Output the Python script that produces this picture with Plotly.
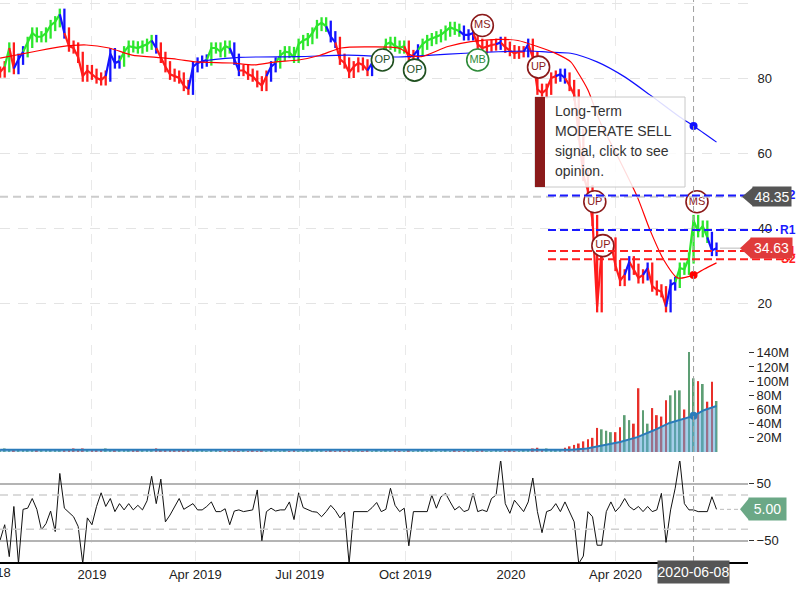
import pandas as pd
import plotly.graph_objects as go

# ---------------- data ----------------
START = "2018-10-13"          # first bar, one bar every 4 calendar days
close = [81.6, 83, 88, 82.5, 85, 87, 89.5, 92, 91, 91,
         92, 94, 95, 97, 92, 88.5, 88, 85.5, 80.5, 82,
         81, 80, 79.5, 80.5, 86.5, 84, 84.5, 87, 88.5, 88.3,
         88, 88.5, 89, 90, 88, 85.5, 83, 81, 80.5, 80,
         78, 77, 83, 84, 84.5, 84.8, 88, 88, 87, 88.5,
         88, 85, 82, 82, 81, 80.5, 79, 78, 80.5, 83,
         84, 86, 87, 86.8, 85.5, 89, 90, 90.5, 92, 94,
         94.7, 93.8, 91, 89.5, 85, 84, 81.5, 83, 84, 83.5,
         82, 84, 84.5, 86, 89, 89.5, 88.5, 88, 88.5, 85.5,
         86, 87.5, 89, 90, 90.5, 91, 91.5, 92.5, 93.5, 93,
         92.5, 91.5, 91.5, 92, 89, 88, 88.5, 88.8, 89, 89.5,
         88.2, 87.3, 86.6, 87, 87, 89, 85.5, 77, 76, 77,
         80, 80.5, 81, 80, 78, 75.5, 65, 54, 50, 42,
         19, 34, 35, 36, 30, 26, 27.5, 31, 29, 26.7,
         27.5, 29.3, 24.5, 23.5, 23, 19, 24.8, 25.5, 29.3, 29,
         32, 42, 39, 40.5, 37.5, 34, 34.63]

trend_runs = [("r", 2), ("g", 1), ("r", 1), ("b", 2), ("g", 8), ("b", 1), ("r", 9), ("b", 3),
              ("g", 7), ("b", 1), ("r", 7), ("b", 4), ("g", 5), ("b", 2), ("r", 6), ("b", 2),
              ("g", 11), ("b", 2), ("r", 7), ("b", 1), ("r", 1), ("g", 6), ("r", 2), ("b", 1),
              ("g", 9), ("b", 3), ("r", 5), ("b", 1), ("r", 5), ("b", 1), ("r", 6), ("b", 2),
              ("r", 13), ("b", 1), ("r", 3), ("b", 1), ("r", 4), ("b", 2), ("g", 7), ("b", 2)]

volume_m = [3, 5, 2, 3, 2, 3, 2, 3, 3, 2,
            3, 2, 3, 2, 4, 3, 5, 3, 5, 2,
            4, 2, 4, 5, 3, 2, 3, 2, 3, 2,
            2, 3, 2, 4, 5, 3, 4, 2, 3, 2,
            3, 2, 4, 2, 3, 1, 2, 4, 1, 2,
            1, 2, 1, 2, 1, 2, 1, 2, 1, 2,
            1, 1, 2, 1, 2, 1, 1, 2, 3, 4,
            2, 1, 2, 1, 2, 1, 3, 1, 2, 1,
            2, 1, 2, 1, 2, 1, 2, 1, 1, 2,
            1, 2, 3, 1, 2, 1, 1, 2, 1, 2,
            1, 1, 2, 1, 1, 2, 1, 1, 2, 1,
            1, 2, 1, 1, 2, 4, 5, 6, 4, 5,
            3, 3, 4, 6, 8, 10, 12, 15, 18, 20,
            34, 32, 30, 28, 28, 35, 52, 45, 40, 90,
            59, 40, 62, 52, 50, 73, 80, 87, 87, 60,
            141, 104, 100, 96, 71, 99, 72]

oscillator = [-49, -22, -78, 10, -90, 5, 7, 24, 5, -31,
              -20, 2, -34, 68, 7, 0, -8, -25, -90, -10,
              -22, 10, 34, 10, 24, 1, 15, 4, 15, 4,
              12, 4, 20, 63, 15, 58, -17, -5, 10, 24,
              5, 10, 15, 4, 4, 10, 18, 1, 1, 6,
              -22, 2, 4, 1, 3, 4, 39, -50, 1, 7,
              2, 4, 4, 18, -13, 34, 8, 5, 1, 0,
              -8, 1, 12, 3, -10, 0, -90, 1, 1, 1,
              1, 8, 17, 1, 5, 42, 12, 1, 7, -59,
              1, 1, 1, 1, 30, 7, 27, 33, 18, 4,
              10, 1, 4, 33, 1, 4, 1, 24, 30, 92,
              15, -2, 21, 10, 1, 18, 60, 1, -36, 1,
              4, 15, 1, 18, 1, -17, -90, -77, 1, -8,
              -58, -58, 1, 18, 1, 10, 24, 10, 4, 10,
              1, 10, 1, 4, 33, -53, 4, 42, 92, 15,
              4, 4, 1, 1, 1, 27, 5]

ma_short_dates = ["2018-10-13", "2018-11-11", "2018-12-04", "2018-12-27", "2019-01-16", "2019-02-05",
                  "2019-02-26", "2019-03-16", "2019-04-02", "2019-05-03", "2019-05-22", "2019-06-10",
                  "2019-06-30", "2019-07-18", "2019-08-06", "2019-08-27", "2019-09-25", "2019-10-06",
                  "2019-10-15", "2019-11-07", "2019-11-27", "2019-12-21", "2020-01-07", "2020-01-24",
                  "2020-02-08", "2020-02-22", "2020-02-28", "2020-03-08", "2020-03-19", "2020-04-03",
                  "2020-04-20", "2020-05-01", "2020-05-13", "2020-05-25", "2020-06-08", "2020-06-17",
                  "2020-06-28"]
ma_short = [85.3, 87.0, 88.3, 88.8, 88.0, 86.1,
            85.5, 85.0, 84.3, 84.0, 83.5, 84.3,
            84.8, 86.0, 88.0, 88.3, 88.0, 86.1,
            85.7, 88.4, 89.7, 90.3, 90.0, 88.4,
            86.7, 84.3, 81.6, 76.8, 68.0, 59.0,
            48.3, 39.5, 31.5, 26.7, 27.5, 29.0,
            30.7]

ma_long_dates = ["2019-04-08", "2019-05-09", "2019-06-30", "2019-08-12", "2019-09-25", "2019-10-24",
                 "2019-11-22", "2019-12-21", "2020-01-18", "2020-02-02", "2020-02-22", "2020-03-16",
                 "2020-04-09", "2020-05-01", "2020-05-27", "2020-06-08", "2020-06-28"]
ma_long = [84.6, 85.5, 85.7, 86.1, 85.6, 86.1,
           86.6, 87.0, 87.2, 86.9, 86.6, 84.3,
           80.3, 75.5, 69.6, 67.2, 62.9]

vol_ma_dates = ["2018-10-13", "2019-04-01", "2019-04-20", "2020-02-10", "2020-02-23", "2020-03-07",
                "2020-03-22", "2020-04-05", "2020-04-20", "2020-05-05", "2020-05-18", "2020-06-08",
                "2020-06-17", "2020-06-28"]
vol_ma = [3, 3, 2, 2, 3, 5, 10, 14, 21, 31, 41, 51, 59, 65]

sig_dates = ["2019-09-11", "2019-10-09", "2019-12-03", "2019-12-07", "2020-01-25",
             "2020-03-14", "2020-03-21", "2020-06-11"]
sig_prices = [84.8, 82.1, 84.8, 94.0, 82.9, 47.0, 35.3, 47.0]
sig_labels = ["OP", "OP", "MB", "MS", "UP", "UP", "UP", "MS"]

levels = {"R2": 48.7, "R1": 39.5, "S1": 33.9, "S2": 31.7}
cross_date = "2020-06-08"
cross_price = 48.35
last_price = 34.63
last_osc = 5.00

x_ticks = ["2019-01-01", "2019-04-01", "2019-07-01", "2019-10-01", "2020-01-01", "2020-04-01"]
x_tick_text = ["2019", "Apr 2019", "Jul 2019", "Oct 2019", "2020", "Apr 2020"]
price_ticks = [20, 40, 60, 80, 100]
vol_ticks = [20, 40, 60, 80, 100, 120, 140]
osc_ticks = [-50, 50]

# ---------------- figure ----------------
DAY = 86400000
W_PLOT = 748.0
H_PLOT = 562.0
FONT = "Arial, Liberation Sans, sans-serif"

dates = pd.date_range(START, periods=len(close), freq="4D")
prev = [close[0]] + close[:-1]
pad = 1.5
lo = [min(a, b) - pad for a, b in zip(prev, close)]
hi = [max(a, b) + pad for a, b in zip(prev, close)]
trend = "".join(c * n for c, n in trend_runs)
cmap = {"g": "#2de62d", "r": "#ff1c1c", "b": "#1414ff"}

fig = go.Figure()

# price range bars
fig.add_trace(go.Bar(x=dates, y=[h - l for h, l in zip(hi, lo)], base=lo,
                     marker=dict(color=[cmap[t] for t in trend], line_width=0),
                     width=DAY * 2.0, xaxis="x", yaxis="y", hoverinfo="skip"))

# price path, one trace per trend colour
for code, col in cmap.items():
    xs, ys = [], []
    i = 0
    for c, n in trend_runs:
        if c == code:
            s = max(i - 1, 0)
            xs += list(dates[s:i + n]) + [None]
            ys += close[s:i + n] + [None]
        i += n
    fig.add_trace(go.Scatter(x=xs, y=ys, mode="lines", line=dict(color=col, width=2.2),
                             connectgaps=False, xaxis="x", yaxis="y", hoverinfo="skip"))

fig.add_trace(go.Scatter(x=ma_long_dates, y=ma_long, mode="lines",
                         line=dict(color="#1010ff", width=1.2, shape="spline", smoothing=0.7),
                         xaxis="x", yaxis="y"))
fig.add_trace(go.Scatter(x=ma_short_dates, y=ma_short, mode="lines",
                         line=dict(color="#ff0000", width=1.2, shape="spline", smoothing=0.7),
                         xaxis="x", yaxis="y"))
fig.add_trace(go.Scatter(x=[cross_date, cross_date],
                         y=[ma_long[ma_long_dates.index(cross_date)], ma_short[ma_short_dates.index(cross_date)]],
                         mode="markers", marker=dict(size=8, color=["#1010ff", "#ff0000"]),
                         xaxis="x", yaxis="y"))

sig_col = {"OP": "#1f4f1f", "MB": "#2e8b3a", "MS": "#8b1a1a", "UP": "#8b1a1a"}
fig.add_trace(go.Scatter(x=sig_dates, y=sig_prices, mode="markers+text", text=sig_labels,
                         textposition="middle center",
                         textfont=dict(size=11, color=[sig_col[s] for s in sig_labels], family=FONT),
                         marker=dict(size=22, color="white",
                                     line=dict(width=1.6, color=[sig_col[s] for s in sig_labels])),
                         cliponaxis=False, xaxis="x", yaxis="y"))

# volume
vcol = ["#5d9e74" if c >= p else "#e8302a" for c, p in zip(close, prev)]
fig.add_trace(go.Bar(x=dates, y=volume_m, marker=dict(color=vcol, line_width=0),
                     width=DAY * 1.6, xaxis="x", yaxis="y2", hoverinfo="skip"))
fig.add_trace(go.Scatter(x=vol_ma_dates, y=vol_ma, mode="lines", fill="tozeroy",
                         fillcolor="rgba(90,165,215,0.55)",
                         line=dict(color="#2b7bba", width=2), xaxis="x", yaxis="y2"))
fig.add_trace(go.Scatter(x=[cross_date], y=[vol_ma[vol_ma_dates.index(cross_date)]], mode="markers",
                         marker=dict(size=8, color="#2b7bba"), xaxis="x", yaxis="y2"))

# oscillator
fig.add_trace(go.Scatter(x=dates, y=oscillator, mode="lines", line=dict(color="#111111", width=1),
                         xaxis="x", yaxis="y3"))

grid_dash = "10px,8px"
fig.update_layout(
    width=800, height=600, margin=dict(l=0, r=52, t=0, b=38),
    plot_bgcolor="white", paper_bgcolor="white", showlegend=False,
    font=dict(family=FONT, size=13, color="#222"),
    xaxis=dict(domain=[0, 1], anchor="y3", type="date",
               range=["2018-10-12 22:00", "2020-07-25 10:00"],
               tickvals=x_ticks, ticktext=x_tick_text, ticks="",
               showgrid=True, gridcolor="#e9e9e9", griddash=grid_dash,
               showline=True, linecolor="#000", linewidth=1.5, zeroline=False,
               tickfont=dict(size=13, color="#222")),
    yaxis=dict(domain=[1 - 330 / H_PLOT, 1], anchor="x", side="right", range=[12.8, 100.8],
               tickvals=price_ticks, showgrid=True, gridcolor="#e4e4e4", griddash=grid_dash,
               ticks="outside", ticklen=6, tickcolor="rgba(0,0,0,0)", zeroline=False),
    yaxis2=dict(domain=[1 - 452 / H_PLOT, 1 - 345 / H_PLOT], anchor="x", side="right", range=[0, 151],
                tickvals=vol_ticks, ticktext=[f"{v}M" for v in vol_ticks], showgrid=False,
                ticks="outside", ticklen=5, tickcolor="#333", zeroline=False),
    yaxis3=dict(domain=[0, 1 - 461 / H_PLOT], anchor="x", side="right", range=[-87.4, 89.8],
                tickvals=osc_ticks, showgrid=True, gridcolor="#b4b4b4", gridwidth=1.5,
                ticks="outside", ticklen=5, tickcolor="#333", zeroline=False),
)

shapes = []
for v in (30, -30):
    shapes.append(dict(type="line", xref="paper", yref="y3", x0=0, x1=1, y0=v, y1=v,
                       line=dict(color="#d0d0d0", width=1.5, dash="8px,5px")))
shapes.append(dict(type="line", xref="x", yref="paper", x0=cross_date, x1=cross_date, y0=0, y1=1,
                   line=dict(color="#a0a0a0", width=1, dash="6px,4px")))
shapes.append(dict(type="line", xref="paper", yref="y", x0=0, x1=1.0, y0=cross_price, y1=cross_price,
                   line=dict(color="#cccccc", width=2, dash="8px,5px")))
lv_x0 = 548 / W_PLOT
for name, v in levels.items():
    col = "#1a1aff" if name.startswith("R") else "#ff2020"
    x1 = 778 / W_PLOT if name == "R1" else 790 / W_PLOT
    shapes.append(dict(type="line", xref="paper", yref="y", x0=lv_x0, x1=x1, y0=v, y1=v,
                       line=dict(color=col, width=2, dash="8px,4px"), layer="above"))
shapes.append(dict(type="line", xref="paper", yref="y", x0=720 / W_PLOT, x1=742 / W_PLOT,
                   y0=last_price, y1=last_price, line=dict(color="#bbbbbb", width=1)))
shapes.append(dict(type="line", xref="paper", yref="y3", x0=720 / W_PLOT, x1=740 / W_PLOT,
                   y0=last_osc, y1=last_osc, line=dict(color="#bbbbbb", width=1, dash="4px,3px")))


def tip(yref, v, half, tip_px, left_px, color):
    xt, xl = tip_px / W_PLOT, left_px / W_PLOT
    return dict(type="path", xref="paper", yref=yref,
                path=f"M {xt},{v} L {xl},{v + half} L {xl},{v - half} Z",
                fillcolor=color, line=dict(width=0), layer="above")


shapes.append(tip("y", cross_price, 2.53, 742, 753, "#555555"))
shapes.append(tip("y", last_price, 2.67, 740, 751, "#df3b3b"))
shapes.append(tip("y3", last_osc, 19.3, 740, 749, "#6ba886"))

shapes.append(dict(type="rect", xref="paper", yref="paper", x0=535 / W_PLOT, x1=685 / W_PLOT,
                   y0=1 - 187 / H_PLOT, y1=1 - 97 / H_PLOT, fillcolor="rgba(255,255,255,0.86)",
                   line=dict(color="#c8c8c8", width=1), layer="above"))
shapes.append(dict(type="rect", xref="paper", yref="paper", x0=535 / W_PLOT, x1=545 / W_PLOT,
                   y0=1 - 187 / H_PLOT, y1=1 - 97 / H_PLOT, fillcolor="#8b1a1a",
                   line=dict(width=0), layer="above"))

annotations = []
for name, v in levels.items():
    col = "#1a1aff" if name.startswith("R") else "#ff2020"
    annotations.append(dict(xref="paper", yref="y", x=788 / W_PLOT, y=v, text=f"<b>{name}</b>",
                            showarrow=False, font=dict(size=12, color=col), xanchor="center",
                            yanchor="middle"))


def tag(yref, xc_px, v, text, color, w, h):
    return dict(xref="paper", yref=yref, x=xc_px / W_PLOT, y=v,
                text=text, showarrow=False, bgcolor=color, width=w, height=h, borderpad=0,
                font=dict(size=14, color="white"), xanchor="center", yanchor="middle")


annotations.append(tag("y", 772, cross_price, f"{cross_price:.2f}", "#555555", 38, 19))
annotations.append(tag("y", 771.5, last_price, f"{last_price:.2f}", "#df3b3b", 41, 20))
annotations.append(tag("y3", 767.5, last_osc, f"{last_osc:.2f}", "#6ba886", 37, 22))
annotations.append(dict(xref="x", yref="paper", x=cross_date, y=-10 / H_PLOT, text=cross_date,
                        showarrow=False, bgcolor="#555555", width=71, height=22, borderpad=0,
                        font=dict(size=14, color="white"), xanchor="center", yanchor="middle"))
annotations.append(dict(xref="paper", yref="paper", x=-16 / W_PLOT, y=-10 / H_PLOT, text="Oct 2018",
                        showarrow=False, font=dict(size=13, color="#222"), xanchor="center",
                        yanchor="middle"))

tip_lines = ["Long-Term", "MODERATE SELL", "signal, click to see", "opinion."]
for k, line in enumerate(tip_lines):
    annotations.append(dict(xref="paper", yref="paper", x=553 / W_PLOT, y=1 - (111 + 20 * k) / H_PLOT,
                            text=line, showarrow=False, xanchor="left", yanchor="middle",
                            font=dict(size=14, color="#333333")))

fig.update_layout(shapes=shapes, annotations=annotations)
fig.write_html("out.html")
